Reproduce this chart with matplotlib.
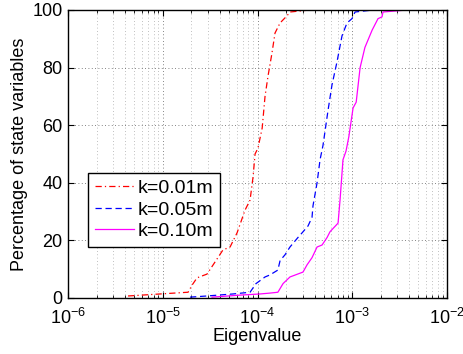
import numpy as np
import matplotlib
matplotlib.use('Agg')
import matplotlib.pyplot as plt
from matplotlib.ticker import LogLocator, NullFormatter

plt.rcParams['font.family'] = ['Liberation Sans', 'DejaVu Sans']

# k=0.01m
eig_01 = [4.30e-6, 9.35e-6, 1.85e-5, 2.04e-5, 2.30e-5, 2.93e-5, 3.56e-5, 4.32e-5, 5.13e-5,
          6.08e-5, 7.38e-5, 8.34e-5, 8.97e-5, 9.42e-5, 1.01e-4, 1.12e-4, 1.20e-4, 1.29e-4,
          1.42e-4, 1.53e-4, 1.73e-4, 2.05e-4, 2.20e-4, 3.58e-4]
pct_01 = [0.7, 1.4, 2.0, 4.5, 7.0, 8.3, 12.5, 16.7, 17.7,
          22.6, 30.5, 34, 42, 50, 52, 59, 70, 77,
          85, 92, 95.5, 98, 99.3, 100]

# k=0.05m
eig_05 = [1.94e-5, 2.93e-5, 5.51e-5, 8.34e-5, 9.64e-5, 1.20e-4, 1.35e-4, 1.64e-4, 1.73e-4,
          1.95e-4, 2.20e-4, 2.67e-4, 2.95e-4, 3.41e-4, 3.76e-4, 3.85e-4, 4.25e-4, 4.57e-4,
          4.91e-4, 5.54e-4, 6.11e-4, 6.90e-4, 7.79e-4, 8.80e-4, 9.94e-4, 1.07e-3, 1.66e-3]
pct_05 = [0.3, 0.7, 1.4, 2.0, 5.0, 7.3, 8.0, 9.7, 13,
          15, 17.7, 21, 22.6, 25, 28, 32, 40, 48,
          53, 65, 74, 82, 91, 95.5, 97, 99.3, 100]

# k=0.10m
eig_10 = [3.31e-5, 6.53e-5, 1.06e-4, 1.35e-4, 1.64e-4, 1.86e-4, 2.20e-4, 3.02e-4, 3.33e-4,
          3.76e-4, 4.25e-4, 4.80e-4, 5.42e-4, 5.82e-4, 7.08e-4, 7.43e-4, 7.98e-4, 8.59e-4,
          9.20e-4, 1.02e-3, 1.10e-3, 1.21e-3, 1.36e-3, 1.62e-3, 1.87e-3, 2.06e-3, 2.11e-3, 3.78e-3]
pct_10 = [0.3, 1.0, 1.4, 1.7, 2.0, 5.0, 7.3, 9.0, 11.5,
          14, 17.7, 18.4, 21, 23, 26, 34, 48, 51,
          56, 66, 68, 80, 87, 93, 97, 97.6, 99.3, 100]

fig = plt.figure(figsize=(4.64, 3.54), dpi=100)
ax = fig.add_axes([0.1466, 0.1582, 0.8168, 0.8136])

ax.plot(eig_01, pct_01, color='r', linestyle='-.', dashes=(5, 2.5, 1, 2.5),
        linewidth=0.9, label='k=0.01m')
ax.plot(eig_05, pct_05, color='b', linestyle='--', dashes=(5, 3),
        linewidth=0.9, label='k=0.05m')
ax.plot(eig_10, pct_10, color='#ff00ff', linestyle='-', linewidth=0.9, label='k=0.10m')

ax.set_xscale('log')
ax.set_xlim(1e-6, 1e-2)
ax.set_ylim(0, 100)
ax.set_yticks([0, 20, 40, 60, 80, 100])
ax.xaxis.set_major_locator(LogLocator(base=10, numticks=10))
ax.xaxis.set_minor_locator(LogLocator(base=10, subs=np.arange(2, 10), numticks=20))
ax.xaxis.set_minor_formatter(NullFormatter())

ax.grid(True, which='major', color='#333333', linestyle=(0, (1, 3)), linewidth=0.6, alpha=0.8)
ax.grid(True, which='minor', axis='x', color='#aaaaaa', linestyle=(0, (1, 3)), linewidth=0.6)

ax.tick_params(which='both', direction='in', top=True, right=True, labelsize=13)
ax.tick_params(which='major', length=4)
ax.tick_params(which='minor', length=2)
ax.tick_params(axis='x', which='major', pad=7)
ax.tick_params(axis='y', which='major', pad=4)
for s in ax.spines.values():
    s.set_linewidth(1.0)

ax.set_xlabel('Eigenvalue', fontsize=13, labelpad=0)
ax.set_ylabel('Percentage of state variables', fontsize=13, labelpad=3)

leg = ax.legend(loc='lower left', bbox_to_anchor=(0.053, 0.177), fontsize=14,
                fancybox=False, edgecolor='k', framealpha=1, handlelength=2.0,
                borderpad=0.35, labelspacing=0.2, handletextpad=0.2, borderaxespad=0)
leg.get_frame().set_linewidth(1.0)

fig.savefig('out.png', dpi=100)
